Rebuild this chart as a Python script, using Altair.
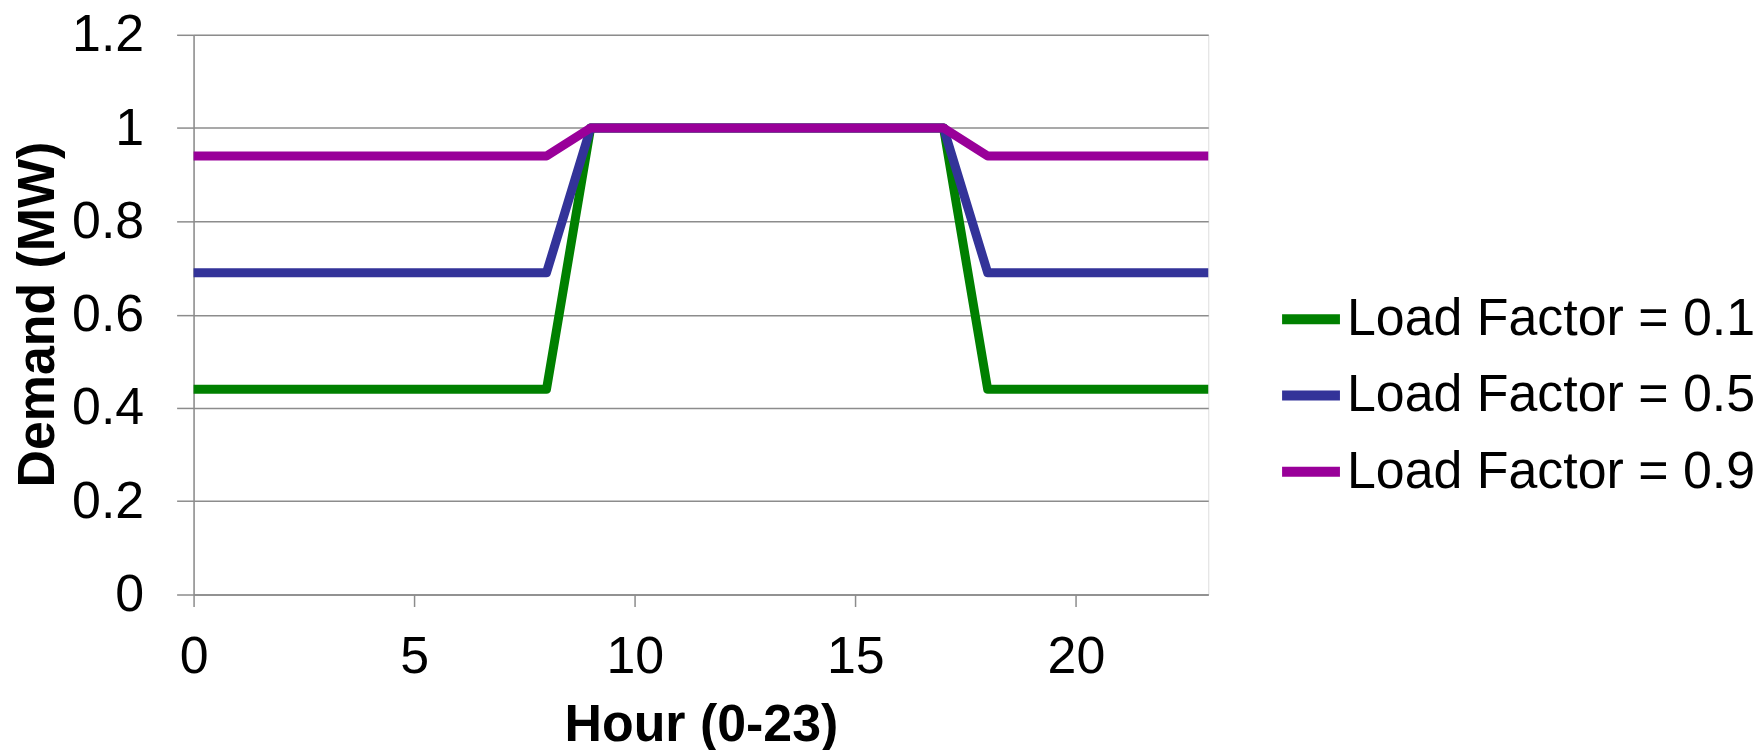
import altair as alt
import pandas as pd

hours = [0, 1, 2, 3, 4, 5, 6, 7, 8, 9, 10, 11, 12, 13, 14, 15, 16, 17, 18, 19, 20, 21, 22, 23]
lf_01 = [0.44, 0.44, 0.44, 0.44, 0.44, 0.44, 0.44, 0.44, 0.44, 1.0, 1.0, 1.0,
         1.0, 1.0, 1.0, 1.0, 1.0, 1.0, 0.44, 0.44, 0.44, 0.44, 0.44, 0.44]
lf_05 = [0.69, 0.69, 0.69, 0.69, 0.69, 0.69, 0.69, 0.69, 0.69, 1.0, 1.0, 1.0,
         1.0, 1.0, 1.0, 1.0, 1.0, 1.0, 0.69, 0.69, 0.69, 0.69, 0.69, 0.69]
lf_09 = [0.94, 0.94, 0.94, 0.94, 0.94, 0.94, 0.94, 0.94, 0.94, 1.0, 1.0, 1.0,
         1.0, 1.0, 1.0, 1.0, 1.0, 1.0, 0.94, 0.94, 0.94, 0.94, 0.94, 0.94]
series_names = ["Load Factor = 0.1", "Load Factor = 0.5", "Load Factor = 0.9"]
series_colors = ["#008000", "#333399", "#990099"]

rows = []
for name, vals in zip(series_names, [lf_01, lf_05, lf_09]):
    for h, v in zip(hours, vals):
        rows.append({"hour": h, "demand": v, "series": name})
df = pd.DataFrame(rows)

FONT = "Liberation Sans"
GRID = "#8c8c8c"

chart = alt.Chart(df).mark_line(strokeWidth=9, strokeJoin="round").encode(
    x=alt.X("hour:Q",
            scale=alt.Scale(domain=[0, 23], nice=False, zero=False),
            axis=alt.Axis(title="Hour (0-23)", values=[0, 5, 10, 15, 20],
                          grid=False, tickSize=12, tickColor=GRID, tickWidth=1.5,
                          domainColor=GRID, domainWidth=1.5,
                          labelFontSize=52, labelFont=FONT, labelColor="#000000",
                          labelPadding=25, labelFlush=False,
                          titleFontSize=52, titleFont=FONT, titleFontWeight="bold",
                          titleColor="#000000", titleY=146, titleBaseline="alphabetic")),
    y=alt.Y("demand:Q",
            scale=alt.Scale(domain=[0, 1.2], nice=False),
            axis=alt.Axis(title="Demand (MW)", values=[0, 0.2, 0.4, 0.6, 0.8, 1.0, 1.2],
                          format="~g",
                          grid=True, gridColor=GRID, gridWidth=1.5, gridOpacity=1,
                          tickSize=17, tickColor=GRID, tickWidth=1.5,
                          domainColor=GRID, domainWidth=1.5,
                          labelFontSize=52, labelFont=FONT, labelColor="#000000",
                          labelPadding=33, labelFlush=False,
                          titleFontSize=52, titleFont=FONT, titleFontWeight="bold",
                          titleColor="#000000", titleX=-156, titleY=280,
                          titleBaseline="middle", titleAngle=270)),
    color=alt.Color("series:N",
                    scale=alt.Scale(domain=series_names, range=series_colors),
                    legend=alt.Legend(title=None, orient="none", legendX=1086, legendY=251,
                                      symbolType="stroke", symbolSize=3364,
                                      symbolStrokeWidth=10, labelFontSize=52,
                                      labelFont=FONT, labelColor="#000000",
                                      labelOffset=2, rowPadding=16.5, padding=0,
                                      labelLimit=600)),
).properties(
    width=1017,
    height=561,
    autosize=alt.AutoSizeParams(type="none"),
    padding={"left": 186, "top": 26, "right": 548, "bottom": 155},
).configure_view(stroke=None).configure(background="#ffffff")

chart.save("out.html", embed_options={"renderer": "svg", "actions": False})
